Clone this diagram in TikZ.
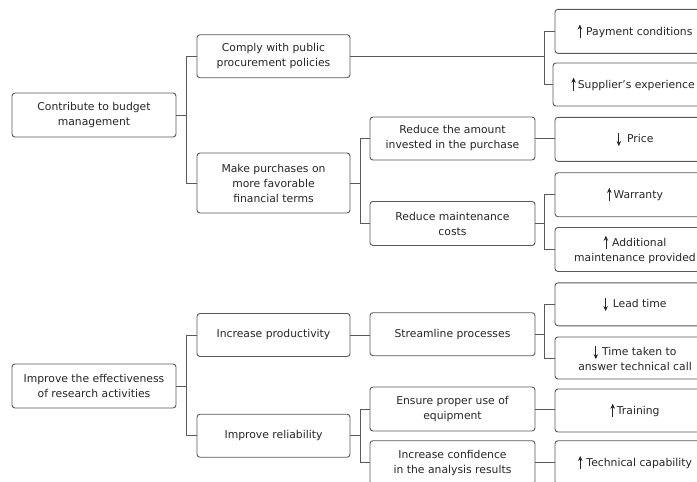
\documentclass[tikz,border=0pt]{standalone}
\usepackage{fontspec}
\setmainfont{DejaVu Sans}
\usepackage{tikz}
\usetikzlibrary{arrows.meta,positioning}
\newcommand{\incr}{\tikz[baseline=0pt,x=1pt,y=1pt]\draw[-{Stealth[length=5pt,width=4.5pt]},line width=0.7pt,black!85] (0,-3) -- (0,10.5);\hspace{4pt}}
\newcommand{\decr}{\tikz[baseline=0pt,x=1pt,y=1pt]\draw[-{Stealth[length=5pt,width=4.5pt]},line width=0.7pt,black!85] (0,10) -- (0,-3.5);\hspace{4pt}}

\begin{document}
\begin{tikzpicture}[x=1pt,y=-1pt,
	box/.style={draw=black!65,line width=0.9pt,rounded corners=3pt,align=center,inner sep=2pt,text=black!85,font=\fontsize{10.8}{15}\selectfont},
	goal/.style={box,minimum width=164pt,minimum height=44pt},
	sub/.style={box,minimum width=153pt,minimum height=43pt},
	act/.style={box,minimum width=165pt,minimum height=43pt},
	leaf/.style={box,minimum width=160pt,minimum height=43pt},
	link/.style={draw=black!65,line width=0.9pt},]
	\useasboundingbox (0,0) rectangle (697,482); \clip (0,0) rectangle (697,482);
	% first tree
	\node[goal] (budget) at (94,115) {Contribute to budget\\management};
	\node[sub] (comply) at (273.5,56.2) {Comply with public\\procurement policies};
	\node[sub,minimum height=60pt] (terms) at (273.5,183) {Make purchases on\\more favorable\\financial terms};
	\node[leaf,minimum height=44pt] (payment) at (635,31.3) {\incr Payment conditions};
	\node[leaf] (supplier) at (633,84.5) {\incr\hspace{-2pt}Supplier’s experience};
	\node[act] (amount) at (452.5,138.5) {Reduce the amount\\invested in the purchase};
	\node[leaf,minimum height=44pt] (price) at (635,139.3) {\decr\hspace{2pt}Price};
	\node[act,minimum height=44pt] (maint) at (452.5,223.5) {Reduce maintenance\\costs};
	\node[leaf,minimum height=44pt] (warranty) at (635,194.7) {\incr\hspace{-2pt}Warranty};
	\node[leaf,minimum height=44pt] (extra) at (635,249.5) {\incr Additional\\maintenance provided};
	% second tree
	\node[goal] (research) at (94,386) {Improve the effectiveness\\of research activities};
	\node[sub] (product) at (273.5,335) {Increase productivity};
	\node[sub] (reliab) at (273.5,435.7) {Improve reliability};
	\node[act] (stream) at (452.5,334.2) {Streamline processes};
	\node[leaf] (lead) at (635,304.3) {\decr\hspace{1pt}Lead time};
	\node[leaf,minimum height=42pt] (callt) at (635,358) {\decr Time taken to\\answer technical call};
	\node[act,minimum height=44pt] (use) at (452.5,409) {Ensure proper use of\\equipment};
	\node[act,minimum height=44pt] (conf) at (452.5,462.7) {Increase confidence\\in the analysis results};
	\node[leaf] (train) at (635,410.5) {\incr\hspace{-2pt}Training};
	\node[leaf,minimum height=44pt] (tech) at (635,462.7) {\incr Technical capability};
	% connectors
	\draw[link] (budget.east) -- ++(9.7,0) |- (comply.west); \draw[link] (budget.east) ++(9.7,0) |- (terms.west);
	\draw[link] (comply.east) -- ++(194,0) |- (payment.west); \draw[link] (comply.east) ++(194,0) |- (supplier.west);
	\draw[link] (terms.east) -- ++(10,0) |- (amount.west); \draw[link] (terms.east) ++(10,0) |- (maint.west);
	\draw[link] (amount.east) -- (amount.east -| price.west);
	\draw[link] (maint.east) -- ++(9,0) |- (warranty.west); \draw[link] (maint.east) ++(9,0) |- (extra.west);
	\draw[link] (research.east) -- ++(9.7,0) |- (product.west); \draw[link] (research.east) ++(9.7,0) |- (reliab.west);
	\draw[link] (product.east) -- (product.east -| stream.west);
	\draw[link] (stream.east) -- ++(9,0) |- (lead.west); \draw[link] (stream.east) ++(9,0) |- (callt.west);
	\draw[link] (reliab.east) -- ++(10,0) |- (use.west); \draw[link] (reliab.east) ++(10,0) |- (conf.west);
	\draw[link] (use.east) -- (use.east -| train.west);
	\draw[link] (conf.east) -- (tech.west);
\end{tikzpicture}
\end{document}
